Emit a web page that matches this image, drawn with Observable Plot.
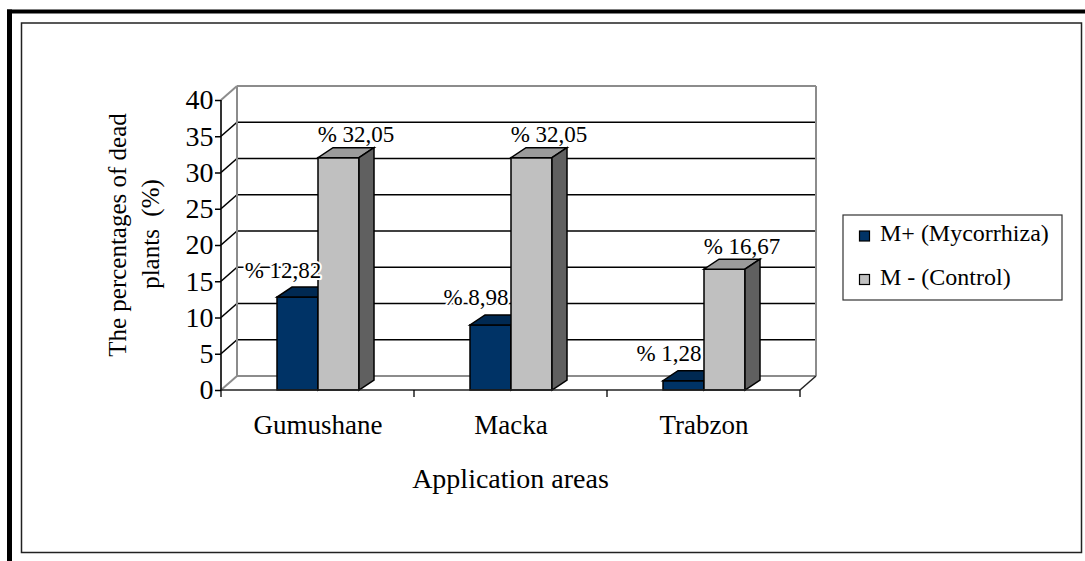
<!DOCTYPE html>
<html><head><meta charset="utf-8">
<script src="https://cdn.jsdelivr.net/npm/d3@7"></script>
<script src="https://cdn.jsdelivr.net/npm/@observablehq/plot@0.6"></script>
<style>html,body{margin:0;padding:0;background:#fff;} svg{display:block;}</style>
</head><body><div id="chart"></div>
<script>
const areas = ["Gumushane", "Macka", "Trabzon"];
const seriesNames = ["M+ (Mycorrhiza)", "M - (Control)"];
const seriesColors = ["#003366", "#C0C0C0"];
const mycorrhiza = [12.82, 8.98, 1.28];
const control = [32.05, 32.05, 16.67];
const yTicks = [0, 5, 10, 15, 20, 25, 30, 35, 40];
const yTitle = ["The percentages of dead", "plants  (%)"];
const xTitle = "Application areas";

const data = [
  ...areas.map((a, i) => ({area: a, series: seriesNames[0], value: mycorrhiza[i]})),
  ...areas.map((a, i) => ({area: a, series: seriesNames[1], value: control[i]}))
];
const fmt = v => "% " + d3.format(".2f")(v).replace(".", ",");

const FONT = "Liberation Serif, Times New Roman, serif";
const DX = 16, DY = -14;   // back-wall depth
const BX = 15, BY = -10;   // bar depth

const plot = Plot.plot({
  width: 1085, height: 561,
  marginLeft: 220, marginRight: 285, marginTop: 100, marginBottom: 171,
  style: {fontFamily: FONT, background: "white", overflow: "visible"},
  fx: {domain: areas, padding: 0, label: null},
  x: {domain: seriesNames, paddingInner: 0, paddingOuter: 1.34, axis: null},
  y: {domain: [0, 40], label: null},
  color: {domain: seriesNames, range: seriesColors},
  marks: [
    Plot.axisY({ticks: yTicks, tickSize: 6, tickPadding: 2, fontSize: 28, fontFamily: FONT, label: null, color: "black", strokeWidth: 1.5}),
    Plot.axisFx({anchor: "bottom", tickSize: 0, tickPadding: 24, fontSize: 27, fontFamily: FONT, label: null, color: "black"}),
    Plot.barY(data, {fx: "area", x: "series", y: "value", fill: "series", stroke: "black", strokeWidth: 1.5}),
    Plot.text(data.filter(d => d.series === seriesNames[0]), {fx: "area", x: "series", y: "value", text: d => fmt(d.value), dx: -15, dy: -20, lineAnchor: "bottom", fontSize: 23, fontFamily: FONT, fill: "black", stroke: "white", strokeWidth: 4}),
    Plot.text(data.filter(d => d.series === seriesNames[1]), {fx: "area", x: "series", y: "value", text: d => fmt(d.value), dx: 17, dy: -16, lineAnchor: "bottom", fontSize: 23, fontFamily: FONT, fill: "black"})
  ]
});

const svg = d3.select(plot);
svg.style("font-family", FONT);
const y = plot.scale("y"), fx = plot.scale("fx");
const yv = v => y.apply(v);
const x0 = fx.apply(areas[0]);
const bw = fx.bandwidth;
const x1 = fx.apply(areas[areas.length - 1]) + bw;
const y0 = yv(yTicks[0]), yTop = yv(yTicks[yTicks.length - 1]);

// back wall, floor, gridlines
const wall = svg.insert("g", "g");
const line = (g, a, b, c, d, stroke, sw) => g.append("line").attr("x1", a).attr("y1", b).attr("x2", c).attr("y2", d).attr("stroke", stroke).attr("stroke-width", sw);
yTicks.slice(1, -1).forEach(t => {
  line(wall, x0 + DX, yv(t) + DY, x1 + DX, yv(t) + DY, "black", 1.6);
  line(wall, x0, yv(t), x0 + DX, yv(t) + DY, "black", 1.6);
});
const gray = "#8c8c8c";
line(wall, x0 + DX, yTop + DY, x1 + DX, yTop + DY, gray, 2);
line(wall, x0 + DX, yTop + DY, x0 + DX, y0 + DY, gray, 2);
line(wall, x1 + DX, yTop + DY, x1 + DX, y0 + DY, gray, 2);
line(wall, x0, yTop, x0 + DX, yTop + DY, gray, 2);
line(wall, x0 + DX, y0 + DY, x1 + DX, y0 + DY, gray, 2);
line(wall, x0, y0, x0 + DX, y0 + DY, gray, 2);
line(wall, x1, y0, x1 + DX, y0 + DY, "#222", 1.5);
// front axis lines
line(svg, x0, y0, x0, yTop, "black", 1.6);
line(svg, x0, y0, x1, y0, "#222", 1.6);
areas.forEach((a, i) => line(svg, fx.apply(a), y0, fx.apply(a), y0 + 7, "black", 1.3));
line(svg, x1, y0, x1, y0 + 7, "black", 1.3);

// 3D faces for bars
svg.selectAll('g[aria-label="bar"] rect').each(function () {
  const r = d3.select(this);
  const x = +r.attr("x"), yy = +r.attr("y"), w = +r.attr("width"), h = +r.attr("height");
  const fill = d3.color(r.attr("fill"));
  const ns = "http://www.w3.org/2000/svg";
  const top = document.createElementNS(ns, "polygon");
  top.setAttribute("points", [[x, yy], [x + w, yy], [x + w + BX, yy + BY], [x + BX, yy + BY]].join(" "));
  top.setAttribute("fill", fill.darker(0.6).formatHex());
  const side = document.createElementNS(ns, "polygon");
  side.setAttribute("points", [[x + w, yy], [x + w + BX, yy + BY], [x + w + BX, yy + h + BY], [x + w, yy + h]].join(" "));
  side.setAttribute("fill", fill.darker(1.95).formatHex());
  this.parentNode.insertBefore(side, this.nextSibling);
  this.parentNode.insertBefore(top, this.nextSibling);
});

// axis titles
svg.append("text").attr("transform", "translate(126,235) rotate(-90)").attr("text-anchor", "middle")
  .attr("font-size", 25).attr("fill", "black").text(yTitle[0]);
svg.append("text").attr("transform", "translate(159,234) rotate(-90)").attr("text-anchor", "middle")
  .attr("font-size", 25).attr("fill", "black").attr("xml:space", "preserve").style("white-space", "pre").text(yTitle[1]);
svg.append("text").attr("x", (x0 + x1) / 2).attr("y", 488).attr("text-anchor", "middle")
  .attr("font-size", 28).attr("fill", "black").text(xTitle);

// legend
const lg = svg.append("g").attr("text-anchor", "start");
lg.append("rect").attr("x", 843).attr("y", 215).attr("width", 219).attr("height", 85).attr("fill", "white").attr("stroke", "#333").attr("stroke-width", 1.2);
seriesNames.forEach((s, i) => {
  lg.append("rect").attr("x", 859.5).attr("y", 231 + i * 43.5).attr("width", 10).attr("height", 10)
    .attr("fill", seriesColors[i]).attr("stroke", "black").attr("stroke-width", 1.2);
  lg.append("text").attr("x", 880).attr("y", 241 + i * 43.5).attr("text-anchor", "start").attr("font-size", 24).attr("fill", "black").text(s);
});

// frames
svg.append("rect").attr("x", 21.5).attr("y", 23).attr("width", 1060).attr("height", 529.5).attr("fill", "none").attr("stroke", "#222").attr("stroke-width", 1.5);
svg.append("rect").attr("x", 7).attr("y", 9.5).attr("width", 1078).attr("height", 4).attr("fill", "black");
svg.append("rect").attr("x", 7).attr("y", 9.5).attr("width", 5).attr("height", 552).attr("fill", "black");

svg.selectAll("text").style("font-family", FONT);
document.getElementById("chart").appendChild(plot);
</script>
</body></html>
